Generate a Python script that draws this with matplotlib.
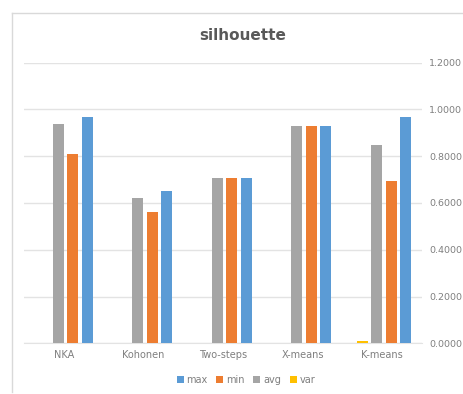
import matplotlib.pyplot as plt
import numpy as np
from matplotlib.lines import Line2D

# silhouette scores per clustering method
methods = ['NKA', 'Kohonen', 'Two-steps', 'X-means', 'K-means']
s_max = [0.966, 0.652, 0.709, 0.929, 0.966]
s_min = [0.808, 0.562, 0.709, 0.929, 0.695]
s_avg = [0.937, 0.620, 0.709, 0.929, 0.846]
s_var = [0.0, 0.0, 0.0, 0.0, 0.010]
yticks = [0.0, 0.2, 0.4, 0.6, 0.8, 1.0, 1.2]

fig = plt.figure(figsize=(4.63, 3.94), dpi=100)
ax = fig.add_axes([24 / 463, 1 - 343.3 / 394, 398 / 463, (343.3 - 62.7) / 394])

x = np.arange(len(methods))
step = 0.182
w = 0.138
# drawn left to right: var, avg, min, max
ax.bar(x - 1.5 * step + 0.02, s_var, w, color='#FFC000', label='var', zorder=3)
ax.bar(x - 0.5 * step + 0.02, s_avg, w, color='#A5A5A5', label='avg', zorder=3)
ax.bar(x + 0.5 * step + 0.02, s_min, w, color='#ED7D31', label='min', zorder=3)
ax.bar(x + 1.5 * step + 0.02, s_max, w, color='#5B9BD5', label='max', zorder=3)

ax.set_xlim(-0.5, len(methods) - 0.5)
ax.set_ylim(0, 1.2)
ax.set_yticks(yticks)
ax.set_yticklabels(['%.4f' % v for v in yticks])
ax.yaxis.tick_right()
ax.tick_params(axis='y', length=0, pad=5, labelsize=6.8, labelcolor='#7f7f7f')
ax.set_xticks(x)
ax.set_xticklabels(methods)
ax.tick_params(axis='x', length=0, pad=5, labelsize=7, labelcolor='#7f7f7f')
ax.grid(axis='y', color='#e3e3e3', linewidth=1, zorder=0)
for s in ['top', 'left', 'right']:
    ax.spines[s].set_visible(False)
ax.spines['bottom'].set_color('#e3e3e3')

handles, labels = ax.get_legend_handles_labels()
order = [3, 2, 1, 0]
fig.legend([handles[i] for i in order], [labels[i] for i in order],
           loc='center', bbox_to_anchor=(246 / 463, 1 - 380 / 394), ncol=4,
           frameon=False, fontsize=7, handlelength=0.7, handleheight=0.7,
           handletextpad=0.3, columnspacing=0.9, labelcolor='#7f7f7f')

fig.text(243 / 463, 1 - 35 / 394, 'silhouette', ha='center', va='center',
         fontsize=11, fontweight='bold', color='#595959')

# chart border (left and top edges)
fig.add_artist(Line2D([12 / 463, 12 / 463], [1 - 13 / 394, 1 - 392 / 394],
                      color='#d9d9d9', linewidth=1))
fig.add_artist(Line2D([12 / 463, 1], [1 - 13 / 394, 1 - 13 / 394],
                      color='#d9d9d9', linewidth=1))

fig.savefig('out.png', dpi=100)
